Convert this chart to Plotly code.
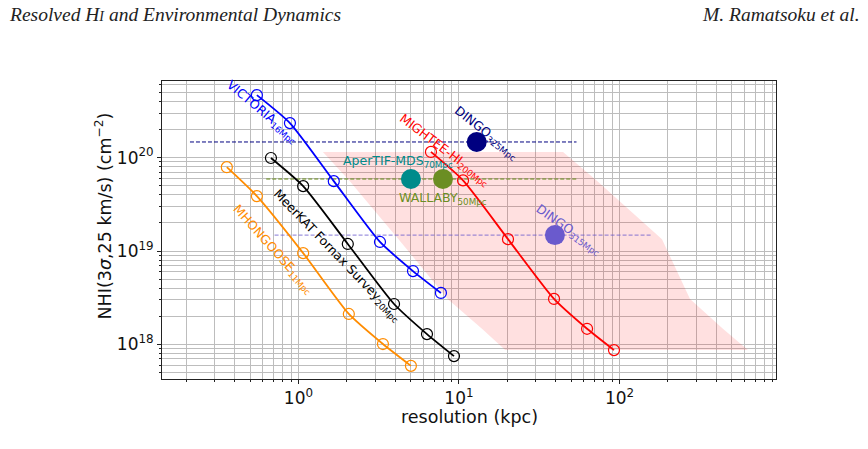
import plotly.graph_objects as go
import math

# ---------------- data ----------------
victoria_x = [0.551, 0.885, 1.66, 3.22, 5.17, 7.72]
victoria_y = [4.66e20, 2.34e20, 5.6e19, 1.25e19, 6.1e18, 3.56e18]

meerkat_x = [0.674, 1.07, 2.03, 3.94, 6.32, 9.31]
meerkat_y = [9.9e19, 4.95e19, 1.19e19, 2.71e18, 1.29e18, 7.5e17]

mhongoose_x = [0.358, 0.551, 1.07, 2.06, 3.36, 5.02]
mhongoose_y = [7.9e19, 3.87e19, 9.5e18, 2.12e18, 1.01e18, 5.9e17]

mightee_x = [6.69, 10.6, 20.2, 39.1, 62.8, 92.4]
mightee_y = [1.15e20, 5.7e19, 1.34e19, 3.07e18, 1.47e18, 8.7e17]

# shaded MIGHTEE range (left / right edges at the MIGHTEE column densities)
band_y = [1.15e20, 5.7e19, 1.34e19, 3.07e18, 1.47e18, 8.7e17]
band_x_left = [1.42, 2.07, 4.2, 8.5, 13.9, 19.4]
band_x_right = [44.5, 72.0, 184.0, 275.0, 441.0, 631.0]

# single-point surveys
dingo_deep = (12.9, 1.47e20)
apertif = (5.02, 5.9e19)
wallaby = (7.95, 5.9e19)
dingo_wide = (39.6, 1.48e19)

# horizontal reference lines (x extent)
dingo_deep_line_x = [0.211, 54.0]
wallaby_line_x = [0.63, 54.0]
dingo_wide_line_x = [0.71, 160.0]

x_ticks = [1.0, 10.0, 100.0]
x_ticktext = ["10<sup>0</sup>", "10<sup>1</sup>", "10<sup>2</sup>"]
y_ticks = [1e18, 1e19, 1e20]
y_ticktext = ["10<sup>18</sup>", "10<sup>19</sup>", "10<sup>20</sup>"]

x_minor = [float(m) * 10.0 ** e for e in range(-1, 3) for m in range(2, 10)]
y_minor = [float(m) * 10.0 ** e for e in range(17, 21) for m in range(2, 10)]

FONT = "DejaVu Sans"

fig = go.Figure()

# pink band
fig.add_trace(go.Scatter(
    x=band_x_left + band_x_right[::-1],
    y=band_y + band_y[::-1],
    fill="toself", fillcolor="rgba(255,0,0,0.12)",
    line=dict(width=0), mode="lines", hoverinfo="skip", showlegend=False))

# dashed horizontal lines
fig.add_trace(go.Scatter(x=dingo_deep_line_x, y=[dingo_deep[1]] * 2, mode="lines",
                         line=dict(color="#000080", width=1, dash="4px,2px"), showlegend=False))
fig.add_trace(go.Scatter(x=wallaby_line_x, y=[wallaby[1]] * 2, mode="lines",
                         line=dict(color="rgba(107,142,35,0.55)", width=2, dash="4px,2px"), showlegend=False))
fig.add_trace(go.Scatter(x=dingo_wide_line_x, y=[dingo_wide[1]] * 2, mode="lines",
                         line=dict(color="rgba(106,90,205,0.65)", width=1.2, dash="4px,2px"), showlegend=False))

def curve(xs, ys, color):
    fig.add_trace(go.Scatter(
        x=xs, y=ys, mode="lines+markers",
        line=dict(color=color, width=1.8, shape="spline", smoothing=0.6),
        marker=dict(symbol="circle-open", size=11, color=color, line=dict(width=1.2, color=color)),
        showlegend=False))

curve(victoria_x, victoria_y, "#0000ff")
curve(meerkat_x, meerkat_y, "#000000")
curve(mhongoose_x, mhongoose_y, "#ff8c00")
curve(mightee_x, mightee_y, "#ff0000")

def dot(p, color):
    fig.add_trace(go.Scatter(x=[p[0]], y=[p[1]], mode="markers",
                             marker=dict(size=20, color=color), showlegend=False))

dot(dingo_deep, "#000080")
dot(apertif, "#008b8b")
dot(wallaby, "#6b8e23")
dot(dingo_wide, "#6a5acd")

def label(text, x, y, color, angle=0, size=12.5):
    fig.add_annotation(x=x, y=y, xref="x", yref="y", text=text, showarrow=False,
                       textangle=angle, font=dict(family=FONT, size=size, color=color),
                       xanchor="center", yanchor="middle")

lg = math.log10
label("VICTORIA<sub>16Mpc</sub>", lg(0.601), lg(3.07e20), "#0000ff", 40)
label("MeerKAT Fornax Survey<sub>20Mpc</sub>", lg(1.74), lg(9.06e18), "#000000", 46)
label("MHONGOOSE<sub>11Mpc</sub>", lg(0.694), lg(1.03e19), "#ff8c00", 48)
label("MIGHTEE-HI<sub>200Mpc</sub>", lg(8.18), lg(1.2e20), "#ff0000", 37)
label("DINGO<sub>325Mpc</sub>", lg(14.9), lg(1.83e20), "#000080", 38)
label("AperTIF-MDS<sub>70Mpc</sub>", lg(4.17), lg(9.18e19), "#008b8b", 0)
label("WALLABY<sub>50Mpc</sub>", lg(7.95), lg(3.69e19), "#6b8e23", 0)
label("DINGO<sub>315Mpc</sub>", lg(47.8), lg(1.68e19), "#6a5acd", 35)

# axis titles (as annotations for exact placement)
fig.add_annotation(x=0.5, y=-0.1275, xref="paper", yref="paper", showarrow=False,
                   xanchor="center", yanchor="middle", text="resolution (kpc)",
                   font=dict(family=FONT, size=17.5, color="#111"))
fig.add_annotation(x=-0.0953, y=0.547, xref="paper", yref="paper", showarrow=False,
                   xanchor="center", yanchor="middle", textangle=-90,
                   text="NHI(3<i>σ</i>,25 km/s) (cm<sup>−2</sup>)",
                   font=dict(family=FONT, size=17.5, color="#111"))

# page header
fig.add_annotation(x=-0.2524, y=1.2215, xref="paper", yref="paper", showarrow=False,
                   xanchor="left", yanchor="middle",
                   text="<i>Resolved H<span style='font-size:14px'>I</span> and Environmental Dynamics</i>",
                   font=dict(family="Liberation Serif", size=19.5, color="#222"))
fig.add_annotation(x=1.140, y=1.2215, xref="paper", yref="paper", showarrow=False,
                   xanchor="right", yanchor="middle",
                   text="<i>M. Ramatsoku et al.</i>",
                   font=dict(family="Liberation Serif", size=19.5, color="#222"))

grid_col = "#bdbdbd"

def axis(rng, tv, tt, minor_vals):
    return dict(
        type="log", range=rng, tickmode="array", tickvals=tv, ticktext=tt,
        showline=True, linecolor="#222", linewidth=1, mirror=True,
        ticks="outside", ticklen=4, tickcolor="#222",
        showgrid=True, gridcolor=grid_col, gridwidth=1, zeroline=False,
        tickfont=dict(family=FONT, size=17, color="#111"),
        minor=dict(tickmode="array", tickvals=minor_vals, ticks="outside", ticklen=2,
                   tickcolor="#222", showgrid=True, gridcolor=grid_col, gridwidth=1),
    )

fig.update_layout(
    width=868, height=449,
    margin=dict(l=162, r=92, t=81, b=70),
    paper_bgcolor="white", plot_bgcolor="white",
    font=dict(family=FONT),
    xaxis=axis([-0.850, 2.975], x_ticks, x_ticktext, x_minor),
    yaxis=axis([17.63, 20.82], y_ticks, y_ticktext, y_minor),
)

fig.write_html("out.html")
